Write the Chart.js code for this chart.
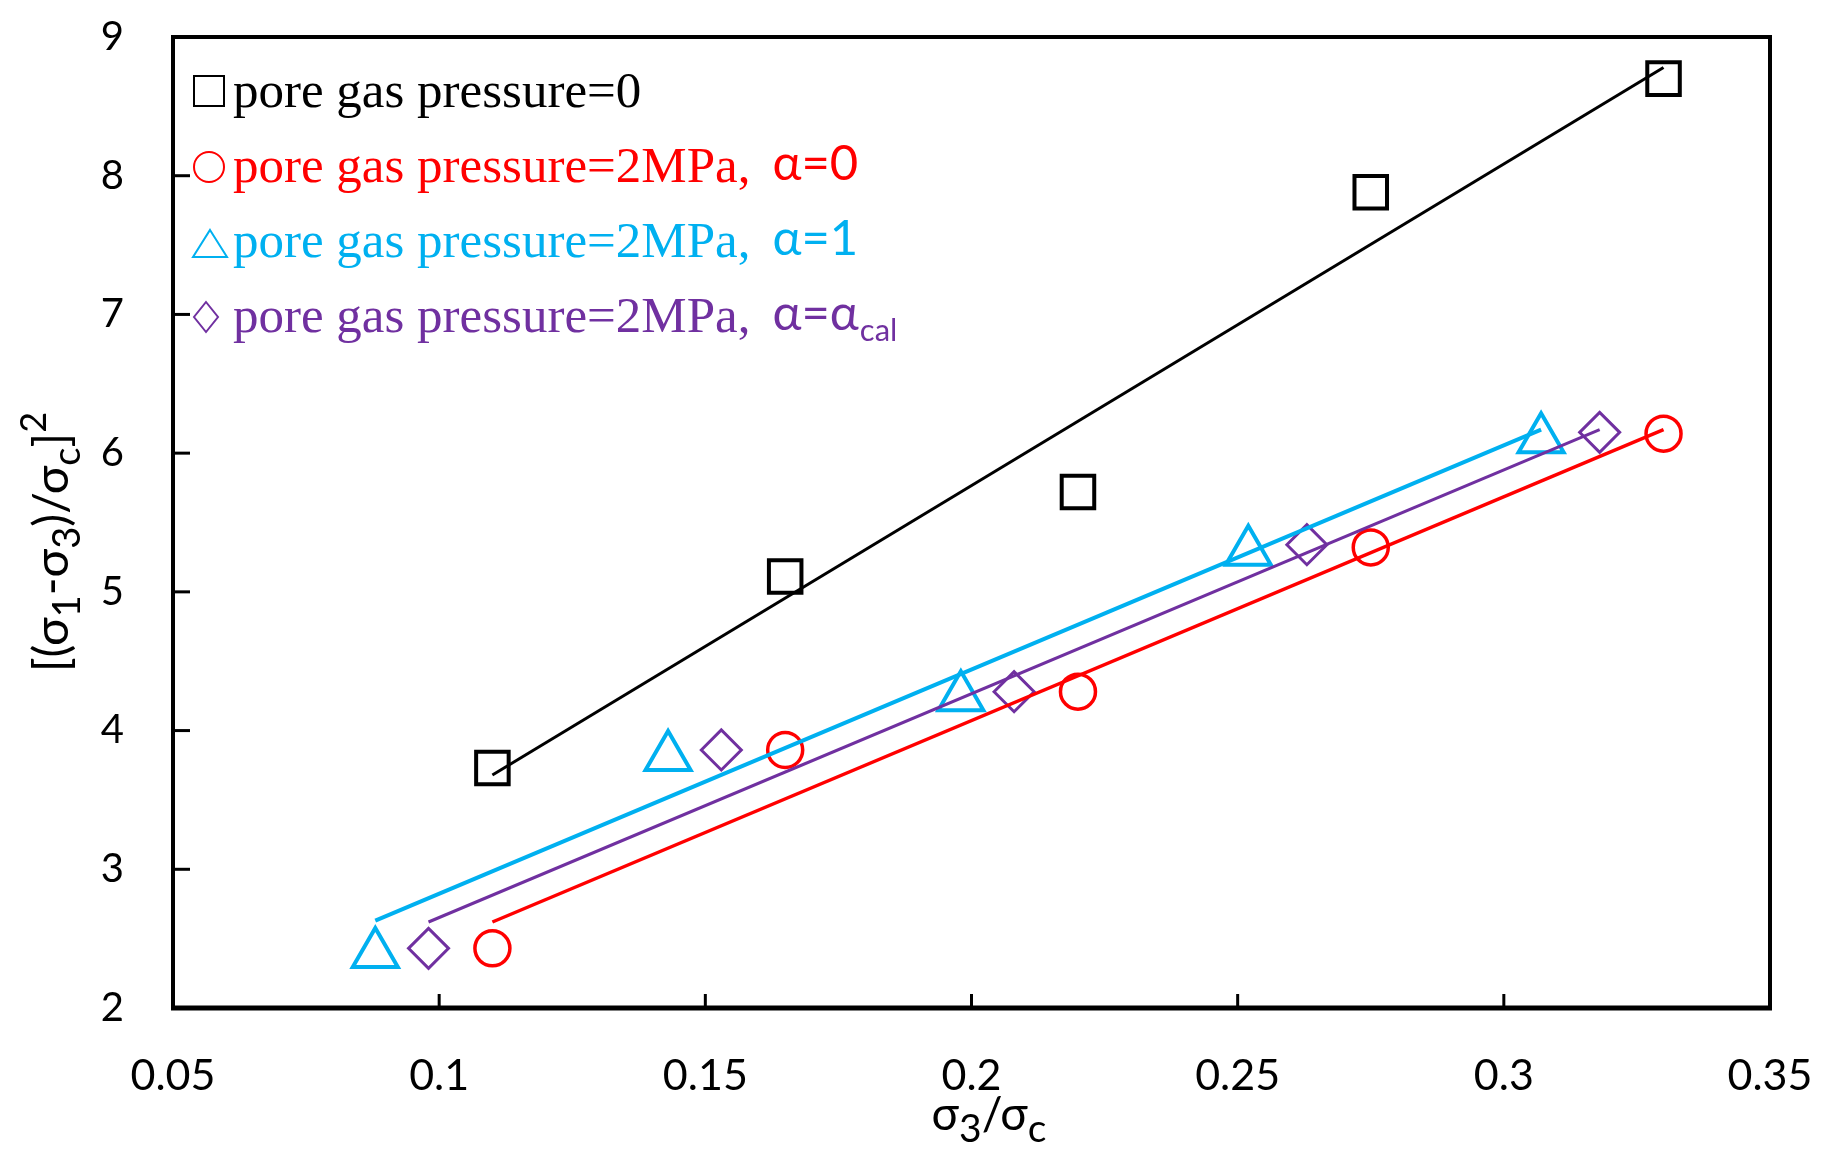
<!DOCTYPE html>
<html>
<head>
<meta charset="utf-8">
<script src="https://cdn.jsdelivr.net/npm/chart.js@4"></script>
<style>
html,body{margin:0;padding:0;background:#fff;}
canvas{display:block;}
</style>
</head>
<body>
<canvas id="c" width="1824" height="1161" style="width:1824px;height:1161px"></canvas>
<script>
// ---- data ----
const xBlack  = [0.110, 0.165, 0.220, 0.275, 0.330];
const yBlack  = [3.73, 5.11, 5.72, 7.88, 8.70];
const xRed    = [0.110, 0.165, 0.220, 0.275, 0.330];
const yRed    = [2.43, 3.86, 4.28, 5.32, 6.14];
const xCyan   = [0.088, 0.143, 0.198, 0.252, 0.307];
const yCyan   = [2.39, 3.81, 4.24, 5.29, 6.10];
const xPurple = [0.098, 0.153, 0.208, 0.263, 0.318];
const yPurple = [2.43, 3.86, 4.28, 5.34, 6.15];

// fitted trend lines (end points)
const fitBlackX  = [0.110, 0.330], fitBlackY  = [3.68, 8.78];
const fitRedX    = [0.110, 0.330], fitRedY    = [2.62, 6.17];
const fitCyanX   = [0.088, 0.307], fitCyanY   = [2.63, 6.17];
const fitPurpleX = [0.098, 0.318], fitPurpleY = [2.62, 6.17];

const xTickLabels = ['0.05','0.1','0.15','0.2','0.25','0.3','0.35'];
const yTickLabels = ['2','3','4','5','6','7','8','9'];

const legendMain  = ['pore gas pressure=0','pore gas pressure=2MPa,','pore gas pressure=2MPa,','pore gas pressure=2MPa,'];
const legendAlpha = ['', 'α=0', 'α=1', 'α=α'];
const legendSub   = ['', '', '', 'cal'];

const BLACK = '#000000', RED = '#FF0000', CYAN = '#00B0F0', PURPLE = '#7030A0';
const legendColors = [BLACK, RED, CYAN, PURPLE];

const pts = (xs, ys) => xs.map((v, i) => ({x: v, y: ys[i]}));

const SANS = "Lato, 'Open Sans', sans-serif";
const SERIF = "'Liberation Serif', 'Times New Roman', serif";

function drawRich(ctx, parts, x, y) {
  let cx = x;
  for (const [t, fs, dy] of parts) {
    ctx.font = fs + 'px ' + SANS;
    ctx.fillText(t, cx, y + dy);
    cx += ctx.measureText(t).width;
  }
  return cx - x;
}
function measureRich(ctx, parts) {
  let w = 0;
  for (const [t, fs] of parts) { ctx.font = fs + 'px ' + SANS; w += ctx.measureText(t).width; }
  return w;
}

const overlay = {
  id: 'overlay',
  afterDraw(chart) {
    const {ctx, chartArea: a, scales: {x, y}} = chart;
    ctx.save();
    // inward ticks
    ctx.strokeStyle = '#000';
    ctx.lineWidth = 3;
    y.ticks.forEach(t => {
      if (t.value > 2.01 && t.value < 8.99) {
        const py = y.getPixelForValue(t.value);
        ctx.beginPath(); ctx.moveTo(a.left, py); ctx.lineTo(a.left + 17, py); ctx.stroke();
      }
    });
    x.ticks.forEach(t => {
      if (t.value > 0.051 && t.value < 0.349) {
        const px = x.getPixelForValue(t.value);
        ctx.beginPath(); ctx.moveTo(px, a.bottom); ctx.lineTo(px, a.bottom - 14); ctx.stroke();
      }
    });
    // frame
    ctx.lineWidth = 4;
    ctx.strokeRect(a.left, a.top, a.right - a.left, a.bottom - a.top);
    ctx.lineWidth = 5;
    ctx.beginPath(); ctx.moveTo(a.left - 2, a.bottom); ctx.lineTo(a.right + 2, a.bottom); ctx.stroke();

    // legend
    const base = [107, 182, 257, 332];
    ctx.textBaseline = 'alphabetic';
    ctx.textAlign = 'left';
    for (let i = 0; i < 4; i++) {
      const c = legendColors[i], by = base[i];
      ctx.strokeStyle = c; ctx.fillStyle = c; ctx.lineWidth = 2;
      ctx.beginPath();
      if (i === 0) ctx.rect(194, by - 31, 30, 30);
      else if (i === 1) ctx.arc(209, by - 15, 15, 0, Math.PI * 2);
      else if (i === 2) { ctx.moveTo(210, by - 27); ctx.lineTo(227, by); ctx.lineTo(193, by); ctx.closePath(); }
      else { ctx.moveTo(206, by - 30); ctx.lineTo(218, by - 15); ctx.lineTo(206, by); ctx.lineTo(194, by - 15); ctx.closePath(); }
      ctx.stroke();
      ctx.font = '51px ' + SERIF;
      ctx.fillText(legendMain[i], 233, by);
      if (legendAlpha[i]) {
        const w = ctx.measureText(legendMain[i]).width;
        const ax = 233 + w + 22;
        ctx.font = '49px ' + SANS;
        ctx.fillText(legendAlpha[i], ax, by - 2);
        if (legendSub[i]) {
          const aw = ctx.measureText(legendAlpha[i]).width;
          ctx.font = '31px ' + SANS;
          ctx.fillText(legendSub[i], ax + aw + 1, by + 9);
        }
      }
    }

    // axis titles
    ctx.fillStyle = '#000';
    const xParts = [['σ', 46, 0], ['3', 39, 12], ['/σ', 46, 0], ['c', 39, 12]];
    const xw = measureRich(ctx, xParts);
    drawRich(ctx, xParts, 989 - xw / 2, 1130);

    const yParts = [['[(σ', 48, 0], ['1', 38, 12], ['-σ', 48, 0], ['3', 38, 12], [')/σ', 48, 0], ['c', 38, 12], [']', 48, 0], ['2', 36, -22]];
    const yw = measureRich(ctx, yParts);
    ctx.save();
    ctx.translate(68, 542 + yw / 2);
    ctx.rotate(-Math.PI / 2);
    drawRich(ctx, yParts, 0, 0);
    ctx.restore();

    ctx.restore();
  }
};

new Chart(document.getElementById('c'), {
  type: 'scatter',
  data: {
    datasets: [
      {data: pts(fitBlackX, fitBlackY), showLine: true, borderColor: BLACK, borderWidth: 3, pointRadius: 0},
      {data: pts(fitRedX, fitRedY), showLine: true, borderColor: RED, borderWidth: 3.5, pointRadius: 0},
      {data: pts(fitCyanX, fitCyanY), showLine: true, borderColor: CYAN, borderWidth: 4, pointRadius: 0},
      {data: pts(fitPurpleX, fitPurpleY), showLine: true, borderColor: PURPLE, borderWidth: 3, pointRadius: 0},
      {data: pts(xBlack, yBlack), pointStyle: 'rect', pointRadius: 23, pointBorderWidth: 4, pointBorderColor: BLACK, pointBackgroundColor: 'rgba(0,0,0,0)'},
      {data: pts(xRed, yRed), pointStyle: 'circle', pointRadius: 17.5, pointBorderWidth: 3.5, pointBorderColor: RED, pointBackgroundColor: 'rgba(0,0,0,0)'},
      {data: pts(xCyan, yCyan), pointStyle: 'triangle', pointRadius: 26, pointBorderWidth: 4, pointBorderColor: CYAN, pointBackgroundColor: 'rgba(0,0,0,0)'},
      {data: pts(xPurple, yPurple), pointStyle: 'rectRot', pointRadius: 20, pointBorderWidth: 3, pointBorderColor: PURPLE, pointBackgroundColor: 'rgba(0,0,0,0)'}
    ]
  },
  options: {
    responsive: false,
    animation: false,
    devicePixelRatio: 1,
    layout: {padding: {top: 37, right: 54, left: 0, bottom: 0}},
    plugins: {legend: {display: false}, tooltip: {enabled: false}},
    scales: {
      x: {
        type: 'linear', min: 0.05, max: 0.35,
        afterFit: s => { s.height = 153; s.paddingLeft = 0; s.paddingRight = 0; s.paddingTop = 0; s.paddingBottom = 0; },
        grid: {display: false, drawTicks: false},
        border: {display: false},
        ticks: {stepSize: 0.05, padding: 42, color: '#000', font: {family: SANS, size: 43},
                callback: (v, i) => xTickLabels[i]}
      },
      y: {
        type: 'linear', min: 2, max: 9,
        afterFit: s => { s.width = 173; s.paddingLeft = 0; s.paddingRight = 0; s.paddingTop = 0; s.paddingBottom = 0; },
        grid: {display: false, drawTicks: false},
        border: {display: false},
        ticks: {stepSize: 1, padding: 49, color: '#000', font: {family: SANS, size: 40},
                callback: (v, i) => yTickLabels[i]}
      }
    }
  },
  plugins: [overlay]
});
</script>
</body>
</html>
